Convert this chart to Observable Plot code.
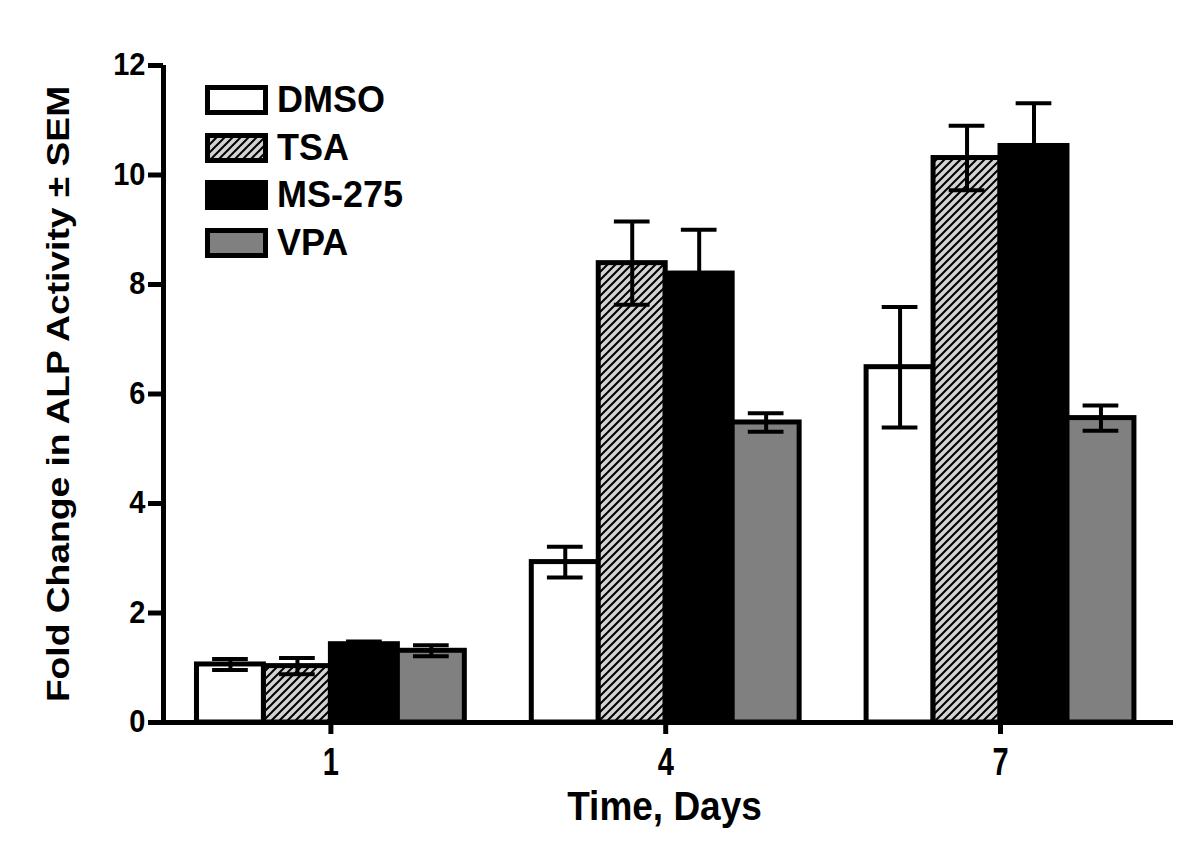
<!DOCTYPE html>
<html>
<head>
<meta charset="utf-8">
<script src="https://cdn.jsdelivr.net/npm/d3@7"></script>
<script src="https://cdn.jsdelivr.net/npm/@observablehq/plot@0.6"></script>
<style>
  html, body { margin: 0; padding: 0; background: #fff; }
  #wrap { position: relative; width: 1200px; height: 845px; }
  #wrap svg text { font-family: "Liberation Sans", Arial, sans-serif; font-weight: bold; fill: #000; }
  .legend { position: absolute; left: 205px; top: 85px; font: bold 36px "Liberation Sans", Arial, sans-serif; color: #000; }
  .legend .row { display: flex; align-items: center; height: 30px; margin-bottom: 17.5px; }
  .legend .row svg { display: block; margin-right: 9px; }
  .legend .row span { line-height: 30px; }
</style>
</head>
<body>
<div id="wrap"></div>
<script>
// ---- data ----
const days = [1, 4, 7];
const treatments = ["DMSO", "TSA", "MS-275", "VPA"];
const treatmentFills = ["#ffffff", "url(#hatch)", "#000000", "#808080"];

const dmsoMean  = [1.06, 2.93, 6.49];
const dmsoSem   = [0.10, 0.28, 1.10];
const tsaMean   = [1.03, 8.39, 10.31];
const tsaSem    = [0.15, 0.76, 0.59];
const ms275Mean = [1.43, 8.20, 10.53];
const ms275Sem  = [0.05, 0.80, 0.78];
const vpaMean   = [1.31, 5.48, 5.56];
const vpaSem    = [0.10, 0.17, 0.23];

const yTicks = [0, 2, 4, 6, 8, 10, 12];
const yTitle = "Fold Change in ALP Activity ± SEM";
const xTitle = "Time, Days";

// ---- build table ----
const means = [dmsoMean, tsaMean, ms275Mean, vpaMean];
const sems = [dmsoSem, tsaSem, ms275Sem, vpaSem];
const rows = [];
treatments.forEach((t, i) => days.forEach((d, j) => rows.push({
  treatment: t, idx: i, day: d, mean: means[i][j], sem: sems[i][j]
})));

const barW = 0.6;          // bar width in day units
const capHalf = 0.16;      // half cap width in day units
const xDomain = [-0.5, 8.55];
const x1 = d => d.day + (d.idx - 2) * barW;
const x2 = d => d.day + (d.idx - 1) * barW;
const xc = d => d.day + (d.idx - 1.5) * barW;

const chart = Plot.plot({
  width: 1200,
  height: 845,
  marginLeft: 163,
  marginRight: 27,
  marginTop: 65,
  marginBottom: 123,
  x: { domain: xDomain },
  y: { domain: [0, 12] },
  color: { domain: treatments, range: treatmentFills },
  marks: [
    Plot.rectY(rows, { x1, x2, y1: 0, y2: "mean", fill: "treatment", stroke: "#000", strokeWidth: 5 }),
    Plot.ruleX(rows, { x: xc, y1: d => d.mean - d.sem, y2: d => d.mean + d.sem, stroke: "#000", strokeWidth: 4 }),
    Plot.ruleY(rows, { y: d => d.mean + d.sem, x1: d => xc(d) - capHalf, x2: d => xc(d) + capHalf, stroke: "#000", strokeWidth: 4 }),
    Plot.ruleY(rows, { y: d => d.mean - d.sem, x1: d => xc(d) - capHalf, x2: d => xc(d) + capHalf, stroke: "#000", strokeWidth: 4 }),
    Plot.ruleY([0], { stroke: "#000", strokeWidth: 5 }),
    Plot.ruleX([xDomain[0]], { y1: 0, y2: 12, stroke: "#000", strokeWidth: 5 }),
    Plot.axisY({ ticks: yTicks, tickSize: 15, tickPadding: 3, strokeWidth: 5, fontSize: 29, fontWeight: "bold", label: null }),
    Plot.axisX({ ticks: days, tickSize: 12, tickPadding: 13, strokeWidth: 5, fontSize: 29, fontWeight: "bold", label: null, tickFormat: d => String(d) }),
    Plot.text([yTitle], { text: d => d, frameAnchor: "left", textAnchor: "middle", dx: -104, rotate: -90, fontSize: 31, fontWeight: "bold" }),
    Plot.text([xTitle], { text: d => d, frameAnchor: "bottom", textAnchor: "middle", dx: -4, dy: 97, fontSize: 37, fontWeight: "bold" })
  ]
});

// hatch pattern
const svg = d3.select(chart);
const defs = svg.insert("defs", ":first-child");
const pat = defs.append("pattern").attr("id", "hatch").attr("patternUnits", "userSpaceOnUse").attr("width", 8).attr("height", 8);
pat.append("rect").attr("width", 8).attr("height", 8).attr("fill", "#d3d3d3");
pat.append("path").attr("d", "M-2,2 L2,-2 M0,8 L8,0 M6,10 L10,6").attr("stroke", "#000").attr("stroke-width", 2);

// typographic stretch to match the reference's tall glyphs
function stretch(sel, sx, sy) {
  sel.each(function () {
    const t = this.getAttribute("transform") || "";
    this.setAttribute("transform", t + ` scale(${sx},${sy})`);
  });
}
stretch(svg.selectAll('[aria-label="x-axis tick label"] text'), 1, 1.35);
stretch(svg.selectAll("text").filter(function () { return this.textContent === xTitle; }), 1, 1.09);
stretch(svg.selectAll('[aria-label="y-axis tick label"] text'), 1, 1.06);
// y title: stretched along its length (local x after rotation)
stretch(svg.selectAll("text").filter(function () { return this.textContent === yTitle; }), 1.2, 1);

const wrap = document.getElementById("wrap");
wrap.appendChild(chart);

// legend
const legend = d3.select(wrap).append("div").attr("class", "legend");
treatments.forEach((t, i) => {
  const row = legend.append("div").attr("class", "row");
  const sw = row.append("svg").attr("width", 63).attr("height", 30);
  sw.append("rect").attr("x", 2.5).attr("y", 2.5).attr("width", 58).attr("height", 25)
    .attr("fill", treatmentFills[i]).attr("stroke", "#000").attr("stroke-width", 5);
  row.append("span").text(t);
});
</script>
</body>
</html>
